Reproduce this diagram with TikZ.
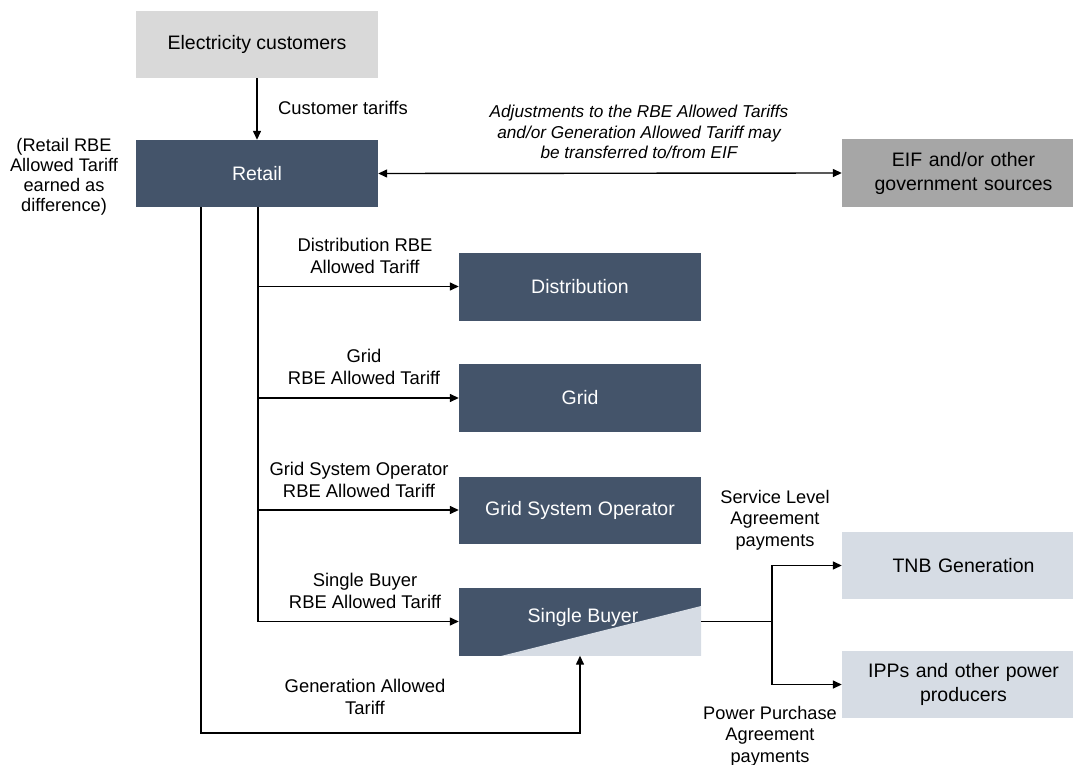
\documentclass[tikz,border=0pt]{standalone}
\usepackage{fontspec}
\setmainfont{Liberation Sans}
\usetikzlibrary{arrows.meta}
\definecolor{darkbox}{HTML}{44546A}
\definecolor{lightgray}{HTML}{D9D9D9}
\definecolor{midgray}{HTML}{A6A6A6}
\definecolor{lightblue}{HTML}{D6DCE4}
\begin{document}
\begin{tikzpicture}[x=1pt,y=-1pt,
  box/.style={rectangle, inner sep=0pt, minimum width=242pt, minimum height=67pt, align=center, font=\fontsize{19.5}{24}\selectfont},
  dbox/.style={box, fill=darkbox, text=white},
  rbox/.style={box, minimum width=243pt, text width=243pt},
  lbl/.style={align=center, inner sep=0pt, font=\fontsize{18.4}{22}\selectfont},
  conn/.style={line width=1.4pt, black},
  arr/.style={conn, -{Triangle[length=9pt,width=8pt]}},
  darr/.style={conn, {Triangle[length=9pt,width=8pt]}-{Triangle[length=9pt,width=8pt]}}
]
\useasboundingbox (0,0) rectangle (1073,765);

% boxes
\node[box, fill=lightgray] (cust) at (257,44.5) {Electricity customers};
\node[dbox] (retail) at (257,173.5) {Retail};
\node[rbox, fill=midgray, minimum height=68pt] (eif) at (963.5,173) {EIF and/or other\\government sources};
\node[dbox, minimum height=68pt] (dist) at (580,286.5) {Distribution};
\node[dbox, minimum height=68pt] (grid) at (580,398) {Grid};
\node[dbox, minimum height=67pt] (gso) at (580,510) {Grid System Operator};
\node[box, fill=darkbox, minimum height=68pt,
  path picture={\fill[lightblue] ([xshift=36pt,yshift=-2pt]path picture bounding box.south west) -- ([xshift=2pt,yshift=-2pt]path picture bounding box.south east) -- ([xshift=2pt,yshift=50pt]path picture bounding box.south east) -- cycle;}]
  (sb) at (580,621.5) {};
\node[lbl, text=white, font=\fontsize{19.5}{24}\selectfont] (sbtext) at (583,617) {Single Buyer};
\node[rbox, fill=lightblue, minimum height=67pt] (tnb) at (963.5,565.5) {TNB Generation};
\node[rbox, fill=lightblue, minimum height=67pt] (ipp) at (963.5,684.5) {IPPs and other power\\producers};

% labels
\node[lbl, anchor=west] (lcust) at (278,108) {Customer tariffs};
\node[lbl, font=\fontsize{18.2}{20}\selectfont] (lret) at (64,177) {(Retail RBE\\Allowed Tariff\\earned as\\difference)};
\node[lbl, font=\fontsize{17.2}{20.5}\selectfont\itshape] (ladj) at (639,132) {Adjustments to the RBE Allowed Tariffs\\and/or Generation Allowed Tariff may\\be transferred to/from EIF};
\node[lbl] (ldist) at (365,256) {Distribution RBE\\Allowed Tariff};
\node[lbl] (lgrid) at (364,367) {Grid\\RBE Allowed Tariff};
\node[lbl] (lgso) at (359,480) {Grid System Operator\\RBE Allowed Tariff};
\node[lbl] (lsb) at (365,591) {Single Buyer\\RBE Allowed Tariff};
\node[lbl] (lgen) at (365,697) {Generation Allowed\\Tariff};
\node[lbl, font=\fontsize{18.2}{21.5}\selectfont] (lsla) at (775,520) {Service Level\\Agreement\\payments};
\node[lbl, font=\fontsize{18.2}{21.5}\selectfont] (lppa) at (770,736) {Power Purchase\\Agreement\\payments};

% connectors
\draw[arr] (cust.south) -- (retail.north);
\draw[darr] (retail.east) -- (eif.west);

\coordinate (trunk) at (258,207);
\coordinate (trunkend) at (258,621.5);
\draw[conn] (trunk) -- (trunkend);
\draw[arr] (trunk |- dist.west) -- (dist.west);
\draw[arr] (trunk |- grid.west) -- (grid.west);
\draw[arr] (trunk |- gso.west) -- (gso.west);
\draw[arr] (trunkend) -- (sb.west);

\coordinate (gentop) at (201,207);
\coordinate (genbot) at (201,733);
\draw[arr] (gentop) -- (genbot) -| (sb.south);

\coordinate (junc) at (772,621.5);
\draw[conn] (sb.east) -- (junc);
\draw[arr] (junc) |- (tnb.west);
\draw[arr] (junc) |- (ipp.west);
\end{tikzpicture}
\end{document}
